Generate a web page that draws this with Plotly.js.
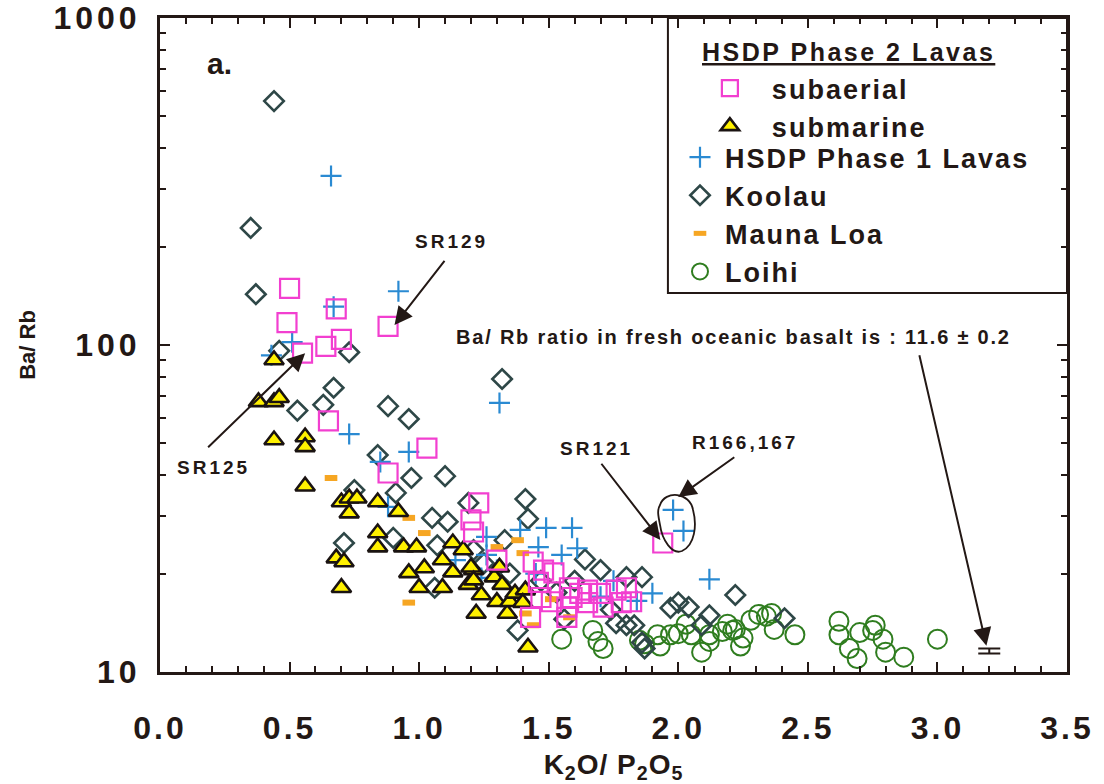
<!DOCTYPE html>
<html><head><meta charset="utf-8">
<script src="https://cdn.plot.ly/plotly-3.0.1.min.js"></script>
<style>html,body{margin:0;padding:0;background:#fff;}#chart{width:1104px;height:784px;}</style>
</head><body><div id="chart"></div>
<script>
// ---------- data (K2O/P2O5 vs Ba/Rb) ----------
const subaerialX = [0.50,0.49,0.68,0.88,0.70,0.64,0.55,0.65,1.03,0.88,1.23,1.20,1.21,1.30,1.44,1.48,1.52,1.46,1.58,1.65,1.70,1.76,1.80,1.82,1.71,1.65,1.57,1.51,1.47,1.59,1.43,1.57,1.62,1.78,1.94];
const subaerialY = [149,117,129,114,104,99,94.5,58.6,48.4,40.6,32.9,29.2,26.8,22,21.7,20.5,20.1,18.8,18.1,17.8,17.4,17.8,18.1,16.4,15.8,16.3,15.8,16.4,16.9,16.9,14.7,14.7,17.4,16.3,24.8];

const submarineX = [0.44,0.38,0.44,0.46,0.44,0.56,0.56,0.56,0.70,0.73,0.76,0.73,0.84,0.92,0.84,0.84,0.94,0.99,0.68,0.71,0.96,1.02,0.70,1.00,1.09,1.09,1.13,1.13,1.19,1.21,1.22,1.17,1.20,1.24,1.29,1.32,1.30,1.34,1.35,1.37,1.41,1.40,1.42,1.21,1.31];
const submarineY = [90,67,67,69,51.2,52.3,48.8,37,33.1,34,34,30.6,33.1,30.9,26.6,24.1,24.1,24.1,22.3,21.7,20.1,20.8,18.1,18.1,18.1,22,24.8,20.2,18.5,20.5,15.1,23.6,20.9,17.2,19.5,18.5,16.4,15.1,16.4,17.4,17.8,16.3,11.9,19.1,20.9];

const phase1X = [0.66,0.92,0.67,0.51,0.43,0.73,0.96,0.85,0.88,1.14,1.31,1.49,1.59,1.39,1.61,1.55,1.46,1.26,1.26,1.98,2.02,2.12,1.90,1.24,1.30,1.45,1.70,1.75,1.84];
const phase1Y = [329,146,131,102,93,53.4,47.1,43.9,32,22,66.5,27.6,27.6,27.2,23.9,22.8,24.1,25.9,22.8,31.3,27,19.2,17.4,19.4,20.5,20,17,19,16.5];

const koolauX = [0.44,0.35,0.37,0.46,0.73,0.53,0.63,0.67,0.88,0.96,0.84,0.97,1.10,0.91,0.75,1.05,1.11,0.71,0.90,1.07,1.06,1.19,1.32,1.41,1.42,1.33,1.21,1.64,1.38,1.80,1.76,1.83,2.22,2.41,1.86,1.97,2.00,2.04,2.12,2.09,1.86,1.80,1.87,1.25,1.35,1.47,1.53,1.60,1.70,1.74,1.56];
const koolauY = [557,228,143,96,95,63,65.6,74,65,59.4,46.1,39.2,39.7,35.3,36,29.6,28.8,24.8,25.7,24.4,18.1,32.9,78.7,33.8,29.4,25.3,23.6,22.1,13.4,19.5,14.1,13.9,17.2,14.6,19.5,15.7,16.3,15.8,14.9,13.9,12.3,13.9,11.8,21.5,20,19,17.5,19,20.5,15.5,14.5];

const maunaLoaX = [0.66,0.96,1.02,0.96,1.38,1.30,1.40,1.58,1.44,1.51,1.41];
const maunaLoaY = [39.2,29.6,26.6,16.3,25.3,24.1,23.1,14.7,13.9,16.7,15.1];

const loihiX = [1.55,1.69,1.71,1.67,1.85,1.87,1.93,1.92,1.97,2.00,2.03,2.05,2.09,2.12,2.12,2.17,2.19,2.21,2.22,2.24,2.25,2.28,2.31,2.34,2.36,2.37,2.45,2.62,2.62,2.66,2.69,2.70,2.75,2.76,2.79,2.80,2.87,3.00];
const loihiY = [12.6,12.4,11.8,13.4,12.5,12.2,12.0,13.0,13.0,13.1,14.0,13.0,11.5,12.4,13.0,13.3,14.0,13.4,13.5,12.0,12.7,14.4,15.0,14.8,15.1,13.5,13.0,14.3,13.0,11.8,11.0,13.2,13.4,13.9,12.6,11.5,11.1,12.6];

// fresh oceanic basalt reference value
const basaltX = [3.2];
const basaltY = [11.6];
const basaltErr = [0.2];

// ticks
const xTickVals = [0,0.5,1.0,1.5,2.0,2.5,3.0,3.5];
const xTickText = ['0.0','0.5','1.0','1.5','2.0','2.5','3.0','3.5'];
const yTickVals = [10,100,1000];
const yTickText = ['10','100','1000'];

// ---------- style ----------
const FONT = 'Liberation Sans, Arial, Helvetica, sans-serif';
const INK = '#231815';
function sp(t, ls){ return '<span style="letter-spacing:' + ls + 'px">' + t + '</span>'; }

const traces = [
  {name:sp('Loihi',2), x:loihiX, y:loihiY, type:'scatter', mode:'markers', legend:'legend2', legendrank:6,
   marker:{symbol:'circle-open', size:19, color:'#2F7D1F', line:{width:2, color:'#2F7D1F'}}},
  {name:sp('Koolau',2), x:koolauX, y:koolauY, type:'scatter', mode:'markers', legend:'legend2', legendrank:4,
   marker:{symbol:'diamond-open', size:15, color:'#2E4747', line:{width:2.6, color:'#2E4747'}}},
  {name:sp('HSDP Phase 1 Lavas',2), x:phase1X, y:phase1Y, type:'scatter', mode:'markers', legend:'legend2', legendrank:3,
   marker:{symbol:'cross-thin-open', size:15, color:'#2A8AD2', line:{width:2.2, color:'#2A8AD2'}}},
  {name:sp('Mauna Loa',2), x:maunaLoaX, y:maunaLoaY, type:'scatter', mode:'markers', legend:'legend2', legendrank:5,
   marker:{symbol:'line-ew-open', size:9, color:'#F6A623', line:{width:6, color:'#F6A623'}}},
  {name:sp('submarine',2), x:submarineX, y:submarineY, type:'scatter', mode:'markers', legend:'legend', legendrank:2,
   marker:{symbol:'triangle-up', size:17, color:'#FFF100', line:{width:2.6, color:'#1A1311'}}},
  {name:sp('subaerial',2), x:subaerialX, y:subaerialY, type:'scatter', mode:'markers', legend:'legend', legendrank:1,
   marker:{symbol:'square-open', size:19, color:'#F23FD0', line:{width:2.2, color:'#F23FD0'}}},
  {name:'fresh oceanic basalt', x:basaltX, y:basaltY, type:'scatter', mode:'markers', showlegend:false,
   marker:{symbol:'line-ew-open', size:0.1, color:INK, line:{width:0, color:INK}},
   error_y:{type:'data', array:basaltErr, visible:true, color:INK, thickness:2, width:11}}
];

const axisCommon = {
  showline:true, linecolor:INK, linewidth:3, mirror:'allticks',
  ticks:'inside', ticklen:10, tickwidth:2, tickcolor:INK,
  showgrid:false, zeroline:false, automargin:false,
  tickfont:{family:FONT, size:32, color:INK, weight:700}
};

const arrowStyle = {showarrow:true, arrowhead:2, arrowsize:1.8, arrowwidth:2, arrowcolor:INK, text:' ',
  xref:'x', yref:'y', axref:'pixel', ayref:'pixel'};
const labelFont = {family:FONT, size:19, color:INK, weight:700};

const layout = {
  width:1104, height:784,
  margin:{l:160, r:37, t:18, b:112},
  paper_bgcolor:'#ffffff', plot_bgcolor:'#ffffff',
  font:{family:FONT, color:INK},
  xaxis: Object.assign({}, axisCommon, {
    range:[0,3.5], tickmode:'array', tickvals:xTickVals, ticktext:xTickText.map(t=>sp(t,3)),
    ticklabelstandoff:26,
    minor:{dtick:0.1, tick0:0, ticks:'inside', ticklen:6, tickwidth:2, tickcolor:INK, showgrid:false},
    title:{text:sp('K<sub>2</sub>O/ P<sub>2</sub>O<sub>5</sub>',1), font:{family:FONT, size:28, color:INK, weight:700}, standoff:31}
  }),
  yaxis: Object.assign({}, axisCommon, {
    type:'log', range:[1,3], tickmode:'array', tickvals:yTickVals, ticktext:yTickText.map(t=>sp(t,4)),
    ticklabelstandoff:10,
    minor:{dtick:'D1', ticks:'inside', ticklen:6, tickwidth:2, tickcolor:INK, showgrid:false},
    title:{text:'Ba/ Rb', font:{family:FONT, size:22, color:INK, weight:700}, standoff:12}
  }),
  legend:{x:0.582, y:0.9297, xanchor:'left', yanchor:'top', bgcolor:'rgba(0,0,0,0)', borderwidth:0, itemwidth:74,
    font:{family:FONT, size:27, color:INK, weight:700}, traceorder:'normal'},
  legend2:{x:0.5678, y:0.824, xanchor:'left', yanchor:'top', bgcolor:'rgba(0,0,0,0)', borderwidth:0, itemwidth:40,
    font:{family:FONT, size:27, color:INK, weight:700}, traceorder:'normal'},
  shapes:[
    {type:'rect', xref:'paper', yref:'paper', x0:0.560, x1:1.0, y0:0.5795, y1:1.0, line:{color:INK, width:2}},
    {type:'path', xref:'paper', yref:'paper', line:{color:INK, width:1.8},
     path:'M0.5513,0.2554 C0.5568,0.2783 0.5843,0.2752 0.5877,0.2477 C0.5921,0.2248 0.5899,0.1942 0.5755,0.1850 C0.5645,0.1789 0.5535,0.2018 0.5513,0.2248 C0.5491,0.2401 0.5480,0.2477 0.5513,0.2554 Z'}
  ],
  annotations:[
    {xref:'paper', yref:'paper', x:0.0496, y:0.931, xanchor:'left', yanchor:'middle', showarrow:false,
     text:'a.', font:{family:FONT, size:30, color:INK, weight:700}},
    {xref:'paper', yref:'paper', x:0.5954, y:0.948, xanchor:'left', yanchor:'middle', showarrow:false,
     text:sp('HSDP Phase 2 Lavas',2.5), font:{family:FONT, size:25, color:INK, weight:700, lineposition:'under'}},
    // SR129
    Object.assign({}, arrowStyle, {x:0.905, y:2.061, ax:53, ay:-68}),
    {xref:'x', yref:'y', x:0.977, y:2.318, xanchor:'left', yanchor:'middle', showarrow:false, text:sp('SR129',3), font:labelFont},
    // SR125
    Object.assign({}, arrowStyle, {x:0.56, y:1.975, ax:-100, ay:97}),
    {xref:'x', yref:'y', x:0.058, y:1.624, xanchor:'left', yanchor:'middle', showarrow:false, text:sp('SR125',3), font:labelFont},
    // SR121
    Object.assign({}, arrowStyle, {x:1.931, y:1.404, ax:-62, ay:-80}),
    {xref:'x', yref:'y', x:1.537, y:1.682, xanchor:'left', yanchor:'middle', showarrow:false, text:sp('SR121',3), font:labelFont},
    // R166,167
    Object.assign({}, arrowStyle, {x:2.0, y:1.535, ax:59, ay:-42}),
    {xref:'x', yref:'y', x:2.046, y:1.703, xanchor:'left', yanchor:'middle', showarrow:false, text:sp('R166,167',3), font:labelFont},
    // fresh oceanic basalt
    Object.assign({}, arrowStyle, {x:3.189, y:1.08, ax:-69, ay:-299}),
    {xref:'x', yref:'y', x:3.293, y:2.0245, xanchor:'right', yanchor:'middle', showarrow:false,
     text:sp('Ba/ Rb ratio in fresh oceanic basalt is : 11.6 \u00B1 0.2',1.8), font:{family:FONT, size:20, color:INK, weight:700}}
  ]
};

Plotly.newPlot('chart', traces, layout, {displayModeBar:false, staticPlot:true});
</script>
</body></html>
